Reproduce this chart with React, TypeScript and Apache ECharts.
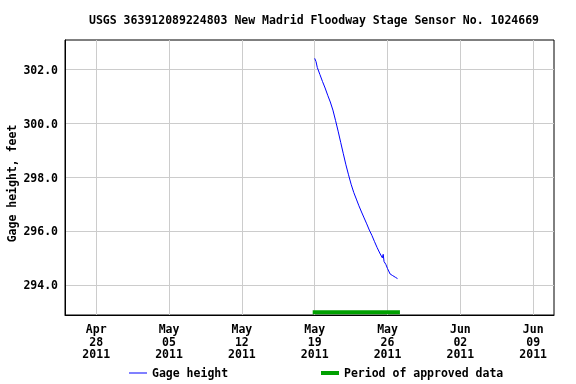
import { useEffect, useRef } from "react";
import * as echarts from "echarts";

const TITLE = "USGS 363912089224803 New Madrid Floodway Stage Sensor No. 1024669";
const Y_NAME = "Gage height, feet";
const SERIES_GAGE = "Gage height";
const SERIES_APPROVED = "Period of approved data";

const AXIS_START = "2011-04-25T00:00";
const AXIS_END = "2011-06-11T00:00";
const TICK_ORIGIN = "2011-04-28T00:00";
const Y_MIN = 292.9;
const Y_MAX = 303.1;

const gageTimes = [
  "2011-05-19T00:00", "2011-05-19T03:00", "2011-05-19T06:00", "2011-05-19T12:00", "2011-05-19T18:00",
  "2011-05-20T00:00", "2011-05-20T06:00", "2011-05-20T12:00", "2011-05-20T18:00",
  "2011-05-21T00:00", "2011-05-21T06:00", "2011-05-21T12:00", "2011-05-21T18:00",
  "2011-05-22T00:00", "2011-05-22T06:00", "2011-05-22T12:00", "2011-05-22T18:00",
  "2011-05-23T00:00", "2011-05-23T06:00", "2011-05-23T12:00", "2011-05-23T18:00",
  "2011-05-24T00:00", "2011-05-24T06:00", "2011-05-24T12:00", "2011-05-24T18:00",
  "2011-05-25T00:00", "2011-05-25T06:00", "2011-05-25T12:00", "2011-05-25T14:00", "2011-05-25T16:00",
  "2011-05-25T20:00", "2011-05-26T00:00", "2011-05-26T06:00", "2011-05-26T12:00", "2011-05-26T18:00",
  "2011-05-26T23:00",
];
const gageValues = [
  302.42, 302.3, 302.08, 301.82, 301.56,
  301.32, 301.05, 300.8, 300.5,
  300.12, 299.72, 299.3, 298.88,
  298.47, 298.1, 297.75, 297.45,
  297.2, 296.95, 296.72, 296.5,
  296.28, 296.05, 295.85, 295.62,
  295.4, 295.2, 295.02, 295.15, 294.88,
  294.78, 294.62, 294.42, 294.36, 294.3,
  294.25,
];
const approvedPeriod = ["2011-05-19T00:00", "2011-05-27T00:00"];
const approvedLevel = 1; // on a hidden 0-100 axis

const MONTHS = ["Jan", "Feb", "Mar", "Apr", "May", "Jun", "Jul", "Aug", "Sep", "Oct", "Nov", "Dec"];
const DAY = 86400000;
const ms = (s: string) => Date.parse(s + ":00Z");
const toDays = (s: string) => (ms(s) - ms(TICK_ORIGIN)) / DAY;

const FONT = "DejaVu Sans Mono";
const textBase = { fontFamily: FONT, fontWeight: "bold" as const, fontSize: 11.5, color: "#000" };

export default function App() {
  const ref = useRef<HTMLDivElement>(null);
  useEffect(() => {
    if (!ref.current) return;
    const chart = echarts.init(ref.current, undefined, { renderer: "svg" });
    const gageData = gageTimes.map((t, i) => [toDays(t), gageValues[i]]);
    const approvedData = approvedPeriod.map((t) => [toDays(t), approvedLevel]);
    chart.setOption({
      animation: false,
      title: {
        text: TITLE,
        left: 84,
        top: 9,
        textStyle: { ...textBase },
      },
      grid: {
        left: 65,
        right: 22,
        top: 40,
        bottom: 69,
        show: true,
        borderColor: "#000",
        borderWidth: 1,
        backgroundColor: "#fff",
        containLabel: false,
        outerBoundsMode: "none",
      },
      legend: [
        {
          data: [{ name: SERIES_GAGE, icon: "rect" }],
          left: 124,
          top: 362,
          itemWidth: 18,
          itemHeight: 1,
          selectedMode: false,
          textStyle: { ...textBase },
        },
        {
          data: [{ name: SERIES_APPROVED, icon: "rect" }],
          left: 316,
          top: 362,
          itemWidth: 18,
          itemHeight: 4,
          selectedMode: false,
          textStyle: { ...textBase },
        },
      ],
      xAxis: {
        type: "value",
        min: toDays(AXIS_START),
        max: toDays(AXIS_END),
        minInterval: 7,
        maxInterval: 7,
        axisLine: { show: true, onZero: false, lineStyle: { color: "#000", width: 1 } },
        axisTick: { show: false },
        splitLine: { show: true, showMinLine: false, showMaxLine: false, lineStyle: { color: "#cccccc", width: 1 } },
        axisLabel: {
          ...textBase,
          margin: 8,
          lineHeight: 12.5,
          showMinLabel: false,
          showMaxLabel: false,
          formatter: (v: number) => {
            if (Math.abs(v / 7 - Math.round(v / 7)) > 1e-6) return "";
            const d = new Date(ms(TICK_ORIGIN) + v * DAY);
            const dd = String(d.getUTCDate()).padStart(2, "0");
            return `${MONTHS[d.getUTCMonth()]}\n${dd}\n${d.getUTCFullYear()}`;
          },
        },
      },
      yAxis: [
        {
          type: "value",
          min: Y_MIN,
          max: Y_MAX,
          minInterval: 2,
          maxInterval: 2,
          name: Y_NAME,
          nameLocation: "middle",
          nameGap: 47,
          nameMoveOverlap: false,
          nameTextStyle: { ...textBase, padding: [0, 12, 0, 0] },
          axisLine: { show: true, onZero: false, lineStyle: { color: "#000", width: 1 } },
          axisTick: { show: false },
          splitLine: { show: true, showMinLine: false, showMaxLine: false, lineStyle: { color: "#cccccc", width: 1 } },
          axisLabel: {
            ...textBase,
            margin: 7,
            showMinLabel: false,
            showMaxLabel: false,
            formatter: (v: number) =>
              Math.abs(v / 2 - Math.round(v / 2)) > 1e-6 ? "" : v.toFixed(1),
          },
        },
        { type: "value", min: 0, max: 100, show: false },
      ],
      series: [
        {
          name: SERIES_GAGE,
          type: "line",
          data: gageData,
          showSymbol: false,
          symbol: "none",
          color: "#0000ff",
          lineStyle: { color: "#0000ff", width: 1 },
        },
        {
          name: SERIES_APPROVED,
          type: "line",
          yAxisIndex: 1,
          data: approvedData,
          showSymbol: false,
          symbol: "none",
          color: "#00a000",
          lineStyle: { color: "#00a000", width: 4, cap: "square" },
        },
      ],
    });
    return () => chart.dispose();
  }, []);
  return <div ref={ref} style={{ position: "fixed", left: 0, top: 0, width: 576, height: 384 }} />;
}
